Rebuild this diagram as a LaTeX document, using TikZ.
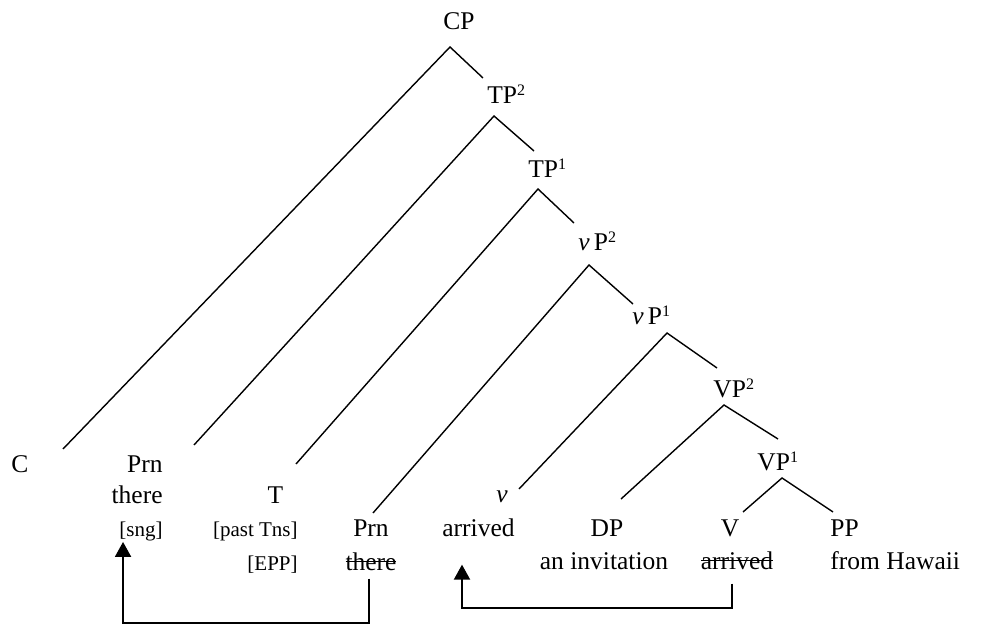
\documentclass[tikz,border=0pt]{standalone}
\usepackage{fontspec}
\setmainfont{Liberation Serif}
\usetikzlibrary{positioning,calc,arrows.meta}

\newcommand{\lbl}[2]{#1\raisebox{0.33em}{\fontsize{8pt}{9pt}\selectfont #2}}
\newlength{\strklen}
\newcommand{\strk}[1]{\settowidth{\strklen}{#1}\rlap{\rule[0.34em]{\strklen}{0.7pt}}#1}

\begin{document}
\begin{tikzpicture}[
	x=0.5pt, y=-0.5pt,
	cat/.style={inner sep=0pt, anchor=base, font=\fontsize{12.75pt}{15pt}\selectfont},
	feat/.style={inner sep=0pt, anchor=base east, font=\fontsize{10.5pt}{12pt}\selectfont},
	branch/.style={line width=0.7pt},
	move/.style={line width=1pt, -{Triangle[length=7.5pt,width=8pt]}}
	]
	\useasboundingbox (0,0) rectangle (985,624);

	% phrasal nodes
	\node (cp) [cat] at (459,30) {CP};
		\node (tp2) [cat, anchor=base west] at (487,104) {\lbl{TP}{2}};
			\node (tp1) [cat, anchor=base west] at (528,178) {\lbl{TP}{1}};
				\node (vp2) [cat, anchor=base west] at (578,251) {\textit{v}\,\lbl{P}{2}};
					\node (vp1) [cat, anchor=base west] at (632,325) {\textit{v}\,\lbl{P}{1}};
						\node (VP2) [cat, anchor=base west] at (713,398) {\lbl{VP}{2}};
							\node (VP1) [cat, anchor=base west] at (757,471) {\lbl{VP}{1}};

	% leaves
	\node (c) [cat] at (20,473) {C};
	\node (prnA) [cat, anchor=base east] at (163,473) {Prn};
	\node (thereA) [cat, anchor=base east] at (163,504) {there};
	\node (sng) [feat] at (163,537) {[sng]};
	\node (t) [cat] at (275.5,504) {T};
	\node (past) [feat] at (298,537) {[past Tns]};
	\node (epp) [feat] at (298,571) {[EPP]};
	\node (prnB) [cat] at (371,537) {Prn};
	\node (thereB) [cat] at (371,571) {\strk{there}};
	\node (vlow) [cat] at (502,503) {\textit{v}};
	\node (arrivedA) [cat] at (478.5,537) {arrived};
	\node (dp) [cat] at (607,537) {DP};
	\node (inv) [cat] at (604,570) {an invitation};
	\node (vv) [cat] at (730,537) {V};
	\node (arrivedB) [cat] at (737,570) {\strk{arrived}};
	\node (pp) [cat, anchor=base west] at (830,537) {PP};
	\node (hawaii) [cat, anchor=base west] at (830,570) {from Hawaii};

	% branch points and feet
	\coordinate (cp-b) at (450,47);   \coordinate (c-f) at (63,449);     \coordinate (tp2-f) at (483,78);
	\coordinate (tp2-b) at (494,116); \coordinate (prnA-f) at (194,445); \coordinate (tp1-f) at (534,151);
	\coordinate (tp1-b) at (538,189); \coordinate (t-f) at (296,464);    \coordinate (vp2-f) at (574,223);
	\coordinate (vp2-b) at (589,265); \coordinate (prnB-f) at (373,513); \coordinate (vp1-f) at (633,304);
	\coordinate (vp1-b) at (667,333); \coordinate (vlow-f) at (519,489); \coordinate (VP2-f) at (717,368);
	\coordinate (VP2-b) at (724,405); \coordinate (dp-f) at (621,499);   \coordinate (VP1-f) at (778,439);
	\coordinate (VP1-b) at (782,478); \coordinate (vv-f) at (743,512);   \coordinate (pp-f) at (833,512);

	\foreach \p/\l/\r in {cp/c/tp2, tp2/prnA/tp1, tp1/t/vp2, vp2/prnB/vp1, vp1/vlow/VP2, VP2/dp/VP1, VP1/vv/pp}
		\draw [branch] (\l-f) -- (\p-b) -- (\r-f);

	% movement
	\draw [move] ($(thereB.south)+(-2,7)$) --++(0,44) -| ($(sng.south west)+(4,0)$);
	\draw [move] ($(arrivedB.south)+(-5,13)$) --++(0,24) -| ($(arrivedA.south west)+(20,27)$);

\end{tikzpicture}
\end{document}
